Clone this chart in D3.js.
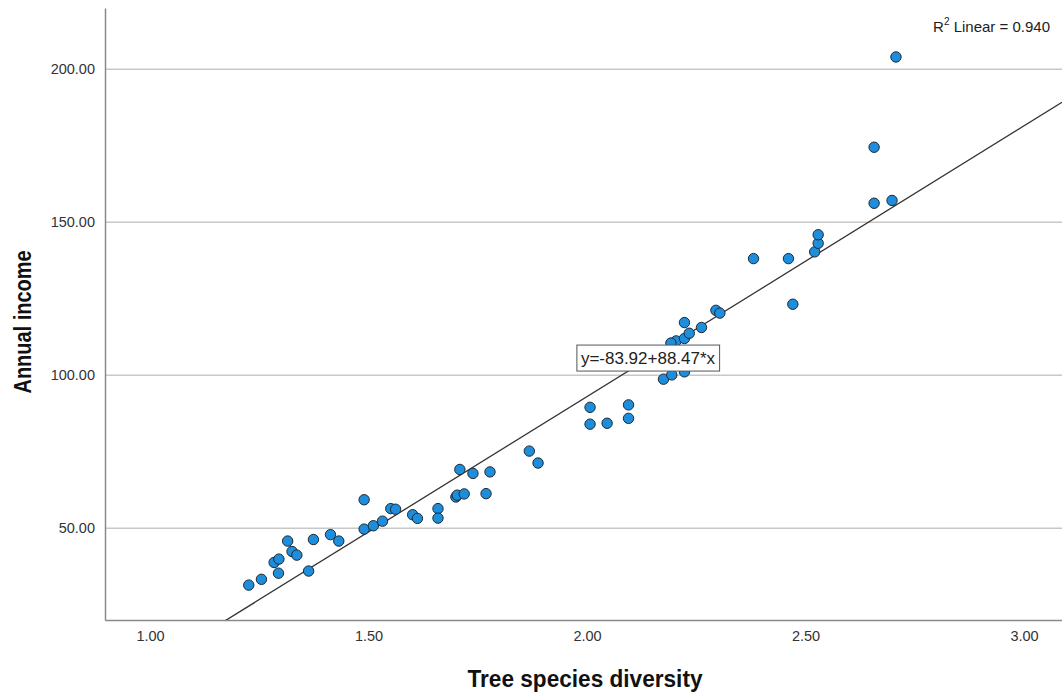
<!DOCTYPE html>
<html>
<head>
<meta charset="utf-8">
<script src="https://cdn.jsdelivr.net/npm/d3@7"></script>
<style>
  html, body { margin: 0; padding: 0; background: #fff; }
  svg { display: block; }
  text { font-family: "Liberation Sans", Arial, sans-serif; }
</style>
</head>
<body>
<svg id="chart" width="1062" height="693"></svg>
<script>
// Tree species diversity (x) against annual income (y)
const diversity = [
  1.226, 1.255, 1.284, 1.295, 1.294, 1.315, 1.325, 1.336, 1.363, 1.374,
  1.413, 1.432, 1.490, 1.490, 1.511, 1.532, 1.551, 1.562, 1.601, 1.612,
  1.659, 1.659, 1.700, 1.703, 1.719, 1.769, 1.709, 1.739, 1.778, 1.868,
  1.888, 2.007, 2.007, 2.046, 2.095, 2.095, 2.175, 2.194, 2.223, 2.204,
  2.223, 2.234, 2.223, 2.262, 2.295, 2.304, 2.381, 2.461, 2.471, 2.521,
  2.529, 2.529, 2.657, 2.657, 2.698, 2.707, 2.192
];
const income = [
  31.4, 33.3, 38.8, 39.9, 35.3, 45.8, 42.4, 41.2, 36.0, 46.3,
  47.9, 45.8, 59.3, 49.7, 50.8, 52.3, 56.4, 56.2, 54.4, 53.2,
  56.4, 53.3, 60.2, 60.8, 61.2, 61.3, 69.2, 67.9, 68.4, 75.2,
  71.3, 89.5, 84.0, 84.3, 90.3, 85.9, 98.7, 100.1, 101.1, 111.2,
  112.0, 113.7, 117.2, 115.6, 121.2, 120.3, 138.1, 138.1, 123.2, 140.3,
  143.1, 145.9, 156.2, 174.5, 157.1, 204.0, 110.5
];

// Fitted line and its statistics
const intercept = -83.92;
const slope = 88.47;
const rSquared = 0.940;

// Axis ticks
const xTicks = [1.0, 1.5, 2.0, 2.5, 3.0];
const yTicks = [50, 100, 150, 200];

const svg = d3.select("#chart");
const plot = { left: 105, right: 1062, top: 8, bottom: 620 };

const x = d3.scaleLinear()
  .domain([1 - 45 / 437, 1 + 912 / 437])
  .range([plot.left, plot.right]);
const y = d3.scaleLinear()
  .domain([20, 220])
  .range([plot.bottom, plot.top]);

// Horizontal gridlines
svg.append("g")
  .selectAll("line")
  .data(yTicks)
  .join("line")
  .attr("x1", plot.left).attr("x2", plot.right)
  .attr("y1", d => y(d)).attr("y2", d => y(d))
  .attr("stroke", "#c8c8c8")
  .attr("stroke-width", 1.5);

// Y axis
const yAxis = svg.append("g")
  .attr("transform", `translate(${plot.left},0)`)
  .call(d3.axisLeft(y).tickValues(yTicks).tickFormat(d3.format(".2f")).tickSize(0).tickPadding(10));
yAxis.select(".domain").attr("stroke", "#8a8a8a").attr("stroke-width", 1.5);
yAxis.selectAll("text").attr("font-size", 14.5).attr("fill", "#333");

// X axis
const xAxis = svg.append("g")
  .attr("transform", `translate(0,${plot.bottom})`)
  .call(d3.axisBottom(x).tickValues(xTicks).tickFormat(d3.format(".2f")).tickSize(0).tickPadding(11));
xAxis.select(".domain").attr("stroke", "#8a8a8a").attr("stroke-width", 1.5);
xAxis.selectAll("text").attr("font-size", 14.5).attr("fill", "#333");

// Regression line, clipped to the plotting area
svg.append("clipPath").attr("id", "plot-clip")
  .append("rect").attr("x", plot.left).attr("y", plot.top)
  .attr("width", plot.right - plot.left).attr("height", plot.bottom - plot.top);

const [x0, x1] = x.domain();
svg.append("line")
  .attr("clip-path", "url(#plot-clip)")
  .attr("x1", x(x0)).attr("y1", y(intercept + slope * x0))
  .attr("x2", x(x1)).attr("y2", y(intercept + slope * x1))
  .attr("stroke", "#333")
  .attr("stroke-width", 1.3);

// Points
svg.append("g")
  .selectAll("circle")
  .data(diversity.map((d, i) => [d, income[i]]))
  .join("circle")
  .attr("cx", d => x(d[0]))
  .attr("cy", d => y(d[1]))
  .attr("r", 5.2)
  .attr("fill", "#1e8ddb")
  .attr("stroke", "#1b2a36")
  .attr("stroke-width", 1);

// Equation label
const eq = svg.append("g").attr("transform", `translate(${x(2.1396)},${y(105.6)})`);
const eqText = eq.append("text")
  .attr("text-anchor", "middle")
  .attr("dy", "0.36em")
  .attr("font-size", 17)
  .attr("fill", "#222")
  .text(`y=${intercept.toFixed(2)}+${slope.toFixed(2)}*x`);
const bb = eqText.node().getBBox();
eq.insert("rect", "text")
  .attr("x", bb.x - 4).attr("y", -13)
  .attr("width", bb.width + 8).attr("height", 26)
  .attr("fill", "#fff")
  .attr("stroke", "#555")
  .attr("stroke-width", 1);

// R-squared note
const r2 = svg.append("text")
  .attr("x", 1050).attr("y", 32)
  .attr("text-anchor", "end")
  .attr("font-size", 15)
  .attr("fill", "#222");
r2.append("tspan").text("R");
r2.append("tspan").attr("font-size", 10).attr("dy", -7).text("2");
r2.append("tspan").attr("dy", 7).text(` Linear = ${rSquared.toFixed(3)}`);

// Axis titles
svg.append("text")
  .attr("x", 585).attr("y", 687)
  .attr("text-anchor", "middle")
  .attr("font-size", 23)
  .attr("font-weight", "bold")
  .attr("fill", "#111")
  .attr("textLength", 235)
  .attr("lengthAdjust", "spacingAndGlyphs")
  .text("Tree species diversity");

svg.append("text")
  .attr("transform", "translate(31,322) rotate(-90)")
  .attr("text-anchor", "middle")
  .attr("font-size", 23)
  .attr("font-weight", "bold")
  .attr("fill", "#111")
  .attr("textLength", 143)
  .attr("lengthAdjust", "spacingAndGlyphs")
  .text("Annual income");
</script>
</body>
</html>
